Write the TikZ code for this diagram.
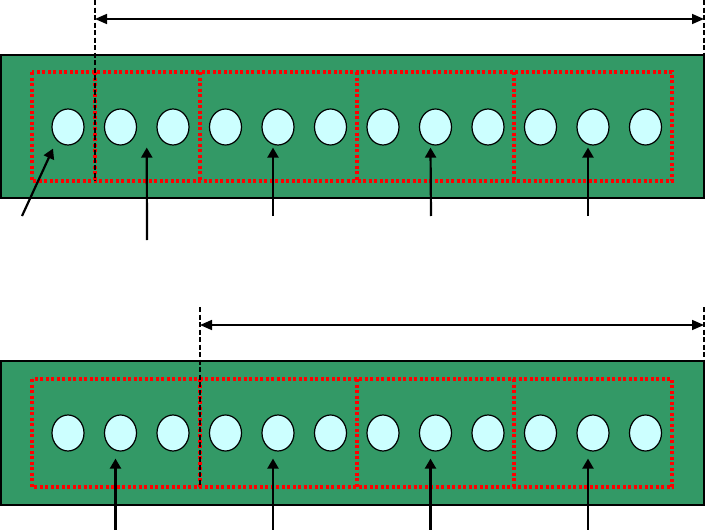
\documentclass[tikz,border=0pt]{standalone}
\usepackage{xcolor}
\usepackage{tikz}
\usetikzlibrary{arrows.meta, positioning, shapes.geometric, calc}
\definecolor{boardgreen}{HTML}{339966}
\definecolor{holecyan}{HTML}{CCFFFF}
\definecolor{groupred}{HTML}{FF0000}

\begin{document}
\begin{tikzpicture}[
    x=1pt, y=-1pt,
    board/.style={draw=black, line width=1.8pt, fill=boardgreen},
    group/.style={draw=groupred, line width=3.2pt, dash pattern=on 3pt off 2.5pt},
    hole/.style={ellipse, draw=black, line width=1.2pt, fill=holecyan,
                 minimum width=32pt, minimum height=36pt, inner sep=0pt},
    span/.style={line width=1.6pt, {Triangle[length=12pt,width=10pt]}-{Triangle[length=12pt,width=10pt]}},
    marker/.style={line width=1.6pt, dash pattern=on 5pt off 2.5pt},
    pointer/.style={line width=2.2pt, -{Triangle[length=10pt,width=11pt]}},
]
    \useasboundingbox (0,0) rectangle (705,530);

    % top board
    \draw[board] (0.9,55) rectangle (704,198);
    \draw[group] (32,72) rectangle (672,181);
    \foreach \d in {95,200,357,514}
        \draw[group] (\d,72) -- (\d,181);
    \foreach \i in {1,...,12}
        \node[hole] (t\i) at ({68+52.5*(\i-1)},127) {};
    \coordinate (tla) at (95,0);   \coordinate (tlb) at (95,181);
    \coordinate (tra) at (704,0);  \coordinate (trb) at (704,55);
    \draw[marker] (tla) -- (tlb);
    \draw[marker] (tra) -- (trb);
    \coordinate (tsa) at (95,19);  \coordinate (tsb) at (704,19);
    \draw[span] (tsa) -- (tsb);

    % top pointers
    \coordinate (tp1) at (22,216);
    \coordinate (tp2) at (147,240);
    \coordinate (tp5) at (273,216);
    \coordinate (tp8) at (431,216);
    \coordinate (tp11) at (588,216);
    \draw[pointer] (tp1) -- ($(t1.south)+(-15,3)$);
    \draw[pointer] (tp2) -- ($($(t2.south)!0.5!(t3.south)$)+(0,2)$);
    \draw[pointer] (tp5) -- ($(t5.south)+(-5,2)$);
    \draw[pointer] (tp8) -- ($(t8.south)+(-5,2)$);
    \draw[pointer] (tp11) -- ($(t11.south)+(-5,2)$);

    % bottom board
    \draw[board] (0.9,361) rectangle (704,505);
    \draw[group] (32,379) rectangle (672,487);
    \foreach \d in {200,357,514}
        \draw[group] (\d,379) -- (\d,487);
    \foreach \i in {1,...,12}
        \node[hole] (b\i) at ({68+52.5*(\i-1)},433) {};
    \coordinate (bla) at (200,307);  \coordinate (blb) at (200,487);
    \coordinate (bra) at (704,307);  \coordinate (brb) at (704,361);
    \draw[marker] (bla) -- (blb);
    \draw[marker] (bra) -- (brb);
    \coordinate (bsa) at (200,325);  \coordinate (bsb) at (704,325);
    \draw[span] (bsa) -- (bsb);

    % bottom pointers
    \foreach \i in {2,5,8,11} {
        \coordinate (bp\i) at ($(b\i.south)+(-5,79)$);
        \draw[pointer] (bp\i) -- ($(b\i.south)+(-5,7)$);
    }
\end{tikzpicture}
\end{document}
